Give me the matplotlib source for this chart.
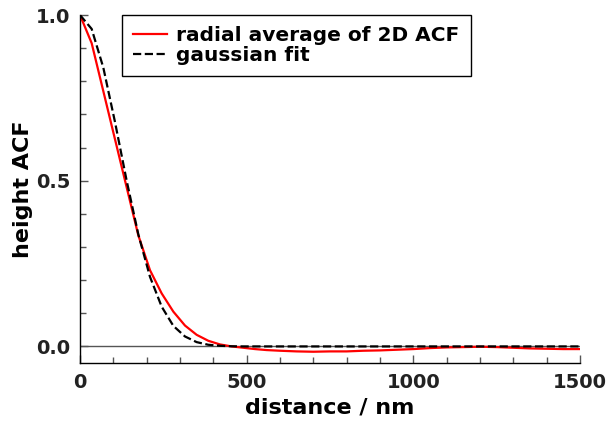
import matplotlib
matplotlib.use("Agg")
import matplotlib.pyplot as plt
from matplotlib.ticker import MultipleLocator

# radial average of the 2D ACF
acf_dist = [0, 35, 70, 105, 140, 175, 210, 245, 280, 315, 350, 385, 420,
            455, 490, 525, 560, 600, 650, 700, 750, 800, 850, 900, 950,
            1000, 1050, 1100, 1150, 1200, 1250, 1300, 1350, 1400, 1450, 1500]
acf_height = [1.0, 0.915, 0.77, 0.625, 0.48, 0.335, 0.23, 0.16, 0.105,
              0.063, 0.035, 0.017, 0.006, 0.0, -0.004, -0.008, -0.011,
              -0.013, -0.015, -0.016, -0.015, -0.015, -0.013, -0.012,
              -0.010, -0.008, -0.005, -0.003, -0.002, -0.001, -0.002,
              -0.004, -0.006, -0.007, -0.008, -0.008]

# gaussian fit
fit_dist = [0, 35, 70, 105, 140, 175, 210, 245, 280, 315, 350, 385, 420,
            455, 490, 600, 800, 1000, 1200, 1500]
fit_height = [1.0, 0.958, 0.841, 0.677, 0.50, 0.338, 0.21, 0.12, 0.062,
              0.03, 0.013, 0.005, 0.002, 0.0005, 0.0, 0.0, 0.0, 0.0, 0.0, 0.0]

plt.rcParams["font.family"] = "DejaVu Sans"
plt.rcParams["font.weight"] = "bold"

fig = plt.figure(figsize=(6.10, 4.23), dpi=100)
ax = fig.add_axes([80 / 610, 1 - 363 / 423, 500 / 610, 348 / 423])

ax.axhline(0, color="#555555", lw=1.0, zorder=1)
ax.plot(acf_dist, acf_height, color="red", lw=1.6,
        label="radial average of 2D ACF", zorder=2)
ax.plot(fit_dist, fit_height, color="black", lw=1.6, ls="--",
        label="gaussian fit", zorder=3)

ax.set_xlim(0, 1500)
ax.set_ylim(-0.05, 1.0)
ax.xaxis.set_major_locator(MultipleLocator(500))
ax.xaxis.set_minor_locator(MultipleLocator(100))
ax.yaxis.set_major_locator(MultipleLocator(0.5))
ax.yaxis.set_minor_locator(MultipleLocator(0.1))

for side in ["top", "right"]:
    ax.spines[side].set_visible(False)
for side in ["left", "bottom"]:
    ax.spines[side].set_linewidth(1.0)

ax.tick_params(which="both", direction="in", colors="#555555",
               labelcolor="#222222", labelsize=14)
ax.tick_params(which="major", length=6, width=1.0, pad=7)
ax.tick_params(which="minor", length=4, width=1.0)

ax.set_xlabel("distance / nm", fontsize=16, fontweight="bold", labelpad=4)
ax.set_ylabel("height ACF", fontsize=16, fontweight="bold", labelpad=2)

leg = ax.legend(loc="upper left", bbox_to_anchor=(122 / 610, 1 - 15 / 423),
                bbox_transform=fig.transFigure, fontsize=14.5, frameon=True,
                fancybox=False, edgecolor="black", framealpha=1,
                borderpad=0.55, handlelength=1.7, handletextpad=0.45,
                labelspacing=0.05, borderaxespad=0)
leg.get_frame().set_linewidth(1.0)

fig.savefig("out.png", dpi=100)
